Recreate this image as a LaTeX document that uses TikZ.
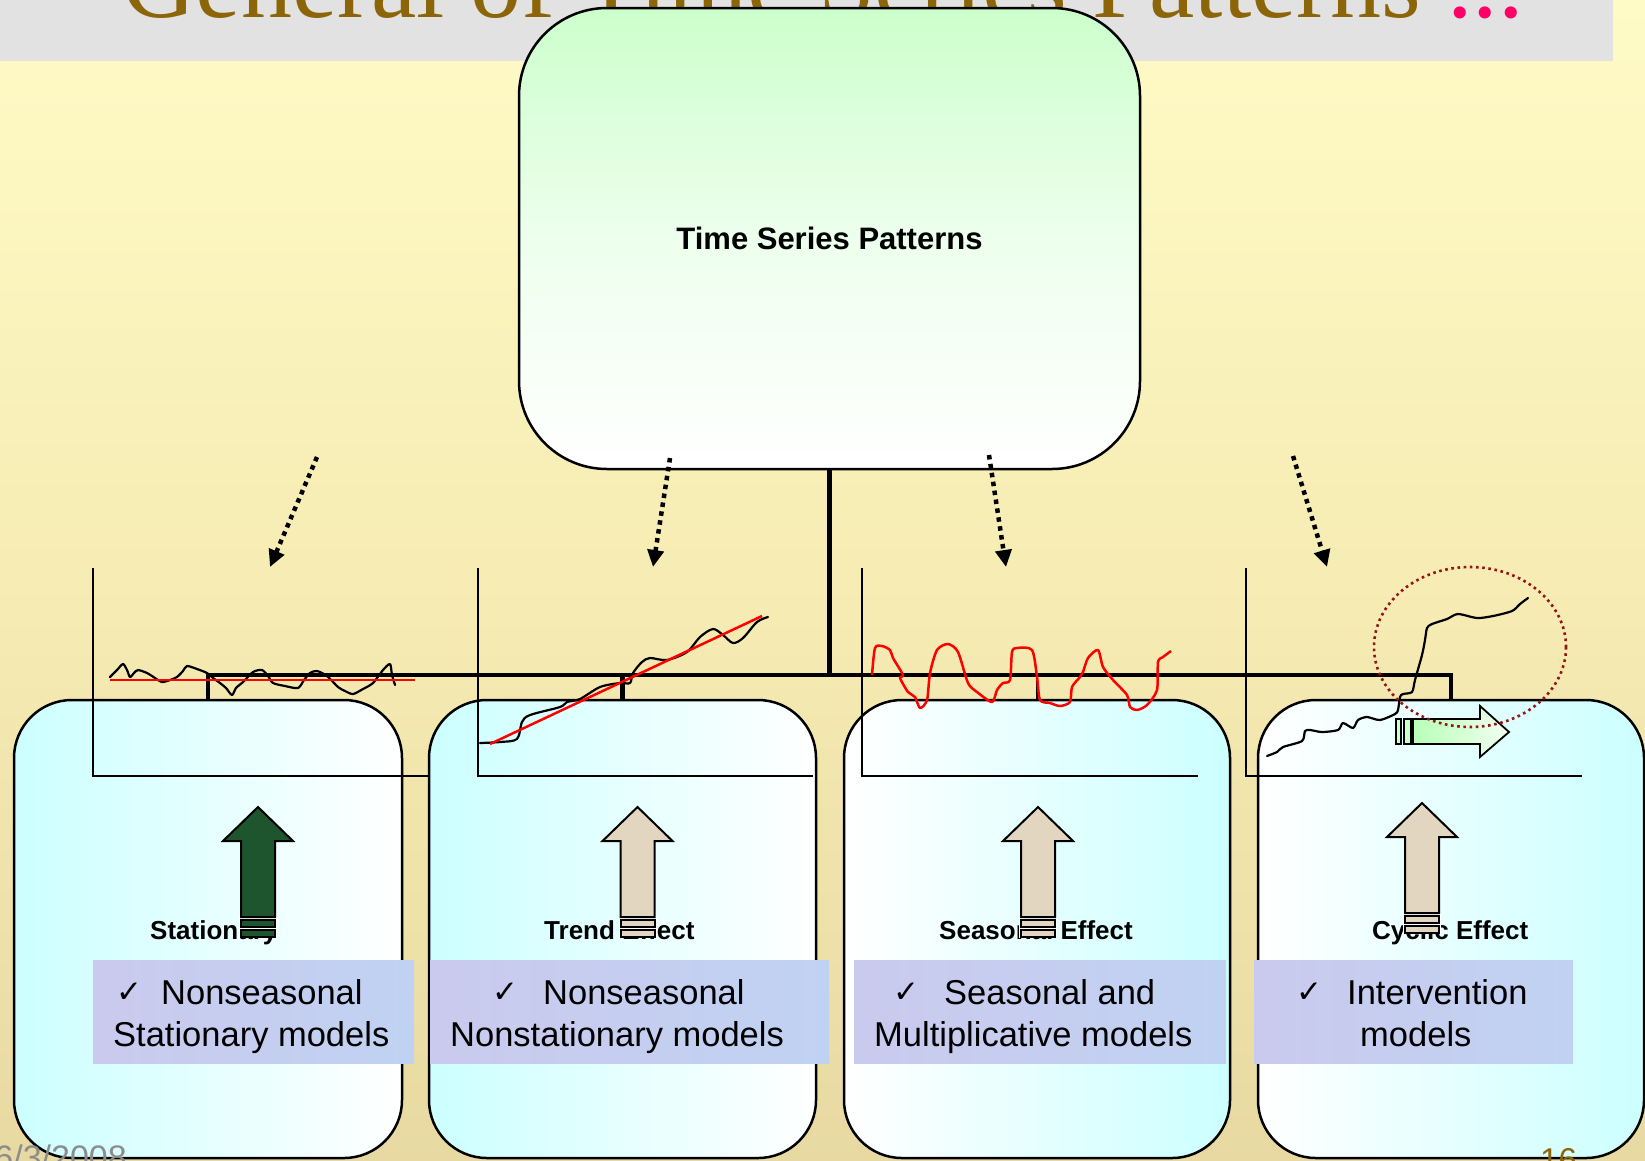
\documentclass[tikz,border=0pt]{standalone}
\usepackage{fontspec}
\setmainfont{Liberation Sans}
\newfontfamily\serifface{Liberation Serif}
\newfontfamily\symface{DejaVu Sans}
\usetikzlibrary{arrows.meta,shapes.geometric}

\definecolor{bgtop}{RGB}{255,251,198}
\definecolor{bgmid}{RGB}{246,236,180}
\definecolor{bgbot}{RGB}{232,217,162}
\definecolor{bandgray}{RGB}{226,226,226}
\definecolor{titlebrown}{RGB}{139,101,8}
\definecolor{dotpink}{RGB}{255,0,102}
\definecolor{tspgreen}{RGB}{204,255,204}
\definecolor{boxcyan}{RGB}{204,255,255}
\definecolor{panelblue}{RGB}{202,202,238}
\definecolor{panelblue2}{RGB}{192,210,242}
\definecolor{darkgreen}{RGB}{30,84,46}
\definecolor{beige}{RGB}{226,214,192}
\definecolor{ringred}{RGB}{150,20,20}
\definecolor{footgray}{RGB}{140,140,140}

\newcommand\blockup[3]{%
  \fill[white] (#1-19,#2+110) rectangle (#1+19,#2+131);
  \draw[blockline, fill=#3] (#1,#2) -- (#1+35,#2+34) -- (#1+17,#2+34) -- (#1+17,#2+110)
     -- (#1-17,#2+110) -- (#1-17,#2+34) -- (#1-35,#2+34) -- cycle;
  \draw[blockline, fill=#3] (#1-17,#2+113) rectangle (#1+17,#2+120);
  \draw[blockline, fill=#3] (#1-17,#2+123) rectangle (#1+17,#2+130);
}

\begin{document}
\begin{tikzpicture}[x=1pt,y=-1pt,
  patternbox/.style={draw=black, line width=2.5pt, rectangle, rounded corners=58pt,
     minimum width=386pt, minimum height=458pt, inner sep=0pt},
  tree/.style={line width=4.5pt, line cap=rect},
  axis/.style={line width=2pt},
  series/.style={line width=2.2pt, line join=round, line cap=round},
  trendred/.style={red, line width=2.5pt},
  dotarrow/.style={line width=4.5pt, dash pattern=on 4.5pt off 4.5pt,
     -{Triangle[length=17pt,width=16pt]}},
  blockline/.style={line width=2pt, line join=miter},
  label/.style={font=\bfseries\fontsize{26}{26}\selectfont, anchor=base west, inner sep=0pt},
  item/.style={font=\fontsize{34.5}{34.5}\selectfont, anchor=base west, inner sep=0pt},
  tick/.style={font=\symface\fontsize{31}{31}\selectfont, anchor=base west, inner sep=0pt},
  panel/.style={rectangle, inner sep=0pt, minimum height=103pt, left color=panelblue, right color=panelblue2}
]
\useasboundingbox (0,0) rectangle (1645,1160);
\begin{scope}
\clip (0,0) rectangle (1645,1160);

% backdrop and header band
\fill[top color=bgtop, bottom color=bgbot, middle color=bgmid] (0,0) rectangle (1645,1160);
\fill[bandgray] (0,0) rectangle (1613,61);
\node[anchor=base west, inner sep=0pt, text=titlebrown,
      font=\serifface\fontsize{102}{102}\selectfont] (title) at (122,17)
      {General of Time Series Patterns \textcolor{dotpink}{...}};

% root box
\node[draw=black, line width=2.5pt, rectangle, rounded corners=88pt,
      minimum width=621pt, minimum height=461pt, inner sep=0pt,
      top color=tspgreen, bottom color=white, middle color=tspgreen!35!white,
      font=\bfseries\fontsize{31}{31}\selectfont] (tsp) at (829.5,238.5) {Time Series Patterns};

% pattern boxes
\node[patternbox, minimum width=388pt, left color=boxcyan, right color=white] (b1) at (208,929) {};
\node[patternbox, minimum width=387pt, left color=boxcyan, right color=white] (b2) at (622.5,929) {};
\node[patternbox, left color=white, right color=boxcyan] (b3) at (1037,929) {};
\node[patternbox, left color=white, right color=boxcyan] (b4) at (1451,929) {};

% tree connectors
\coordinate (hub) at (829.5,675);
\draw[tree] (tsp.south) -- (hub);
\draw[tree] (b1.north) |- (hub) -| (b4.north);
\draw[tree] (b2.north) -- (b2.north |- hub);
\draw[line width=2.5pt] (b3.north) -- (b3.north |- hub);

% chart axes
\draw[axis] (93,568) -- (93,776) -- (428,776);
\draw[axis] (478,568) -- (478,776) -- (813,776);
\draw[axis] (862,568) -- (862,776) -- (1198,776);
\draw[axis] (1246,568) -- (1246,776) -- (1582,776);

% stationary series
\draw[series] plot[smooth, tension=0.45] coordinates {
 (110,677) (117,670) (123,664) (127,670) (130,677) (134,673) (138,670) (147,673)
 (155,678) (162,682) (170,680) (177,677) (183,671) (187,666) (197,669) (207,673)
 (213,678) (220,683) (226,688) (232,695) (236,688) (243,682) (253,672) (262,670)
 (268,676) (273,683) (285,686) (298,688) (304,680) (310,673) (317,671) (327,676)
 (338,687) (345,691) (353,694) (363,689) (373,683) (383,670) (390,664) (392,675) (395,685)};
\draw[trendred] (110,680) -- (415,680);

% trend series
\draw[series] plot[smooth, tension=0.5] coordinates {
 (480,743) (500,742) (517,739) (522,722) (530,715) (560,707) (567,702) (580,699)
 (600,687) (620,683) (630,683) (633,673) (642,662) (650,658) (667,660) (687,652)
 (700,637) (713,629) (723,635) (733,643) (743,638) (757,622) (768,617)};
\draw[trendred] (490,744) -- (762,616);

% seasonal series
\draw[red, line width=2.5pt, line join=round] plot[smooth, tension=0.45] coordinates {
 (872,675) (875,648) (882,646) (890,650) (893,658) (903,675) (900,678) (908,692)
 (915,697) (920,708) (927,700) (930,673) (937,650) (948,644) (958,652) (968,683)
 (977,692) (992,702) (997,690) (1003,683) (1010,680) (1012,652) (1017,648) (1032,650)
 (1037,677) (1040,700) (1050,703) (1060,706) (1070,702) (1072,687) (1080,677) (1083,672)
 (1088,658) (1098,650) (1103,667) (1113,680) (1127,695) (1130,707) (1137,710) (1147,705)
 (1157,690) (1158,662) (1163,657) (1171,651)};

% cyclic series
\draw[series] plot[smooth, tension=0.45] coordinates {
 (1267,756) (1277,752) (1283,747) (1302,741) (1305,731) (1310,730) (1322,732) (1338,730)
 (1343,723) (1353,728) (1358,720) (1367,717) (1380,720) (1395,714) (1398,710) (1400,697)
 (1403,694) (1412,692) (1415,680) (1422,655) (1425,640) (1427,628) (1432,624) (1447,619)
 (1458,614) (1477,618) (1493,616) (1512,611) (1520,604) (1528,598)};

% shift arrow and highlight ring
\draw[blockline, line width=1.8pt, fill=tspgreen] (1396,719) rectangle (1401,744);
\draw[blockline, line width=1.8pt, fill=tspgreen] (1404,719) rectangle (1411,744);
\draw[blockline, line width=1.8pt, left color=tspgreen!90!green, right color=tspgreen!25!white]
  (1413,719) -- (1480,719) -- (1480,706) -- (1509,732) -- (1480,757) -- (1480,744) -- (1413,744) -- cycle;
\draw[ringred, line width=2.6pt, dash pattern=on 2.6pt off 3.6pt] (1470,647) ellipse [x radius=96, y radius=80];

% dotted pointers
\coordinate (d1s) at (317,457); \coordinate (d1e) at (270,567);
\coordinate (d2s) at (670,458); \coordinate (d2e) at (653,567);
\coordinate (d3s) at (989,455); \coordinate (d3e) at (1006,567);
\coordinate (d4s) at (1293,456); \coordinate (d4e) at (1327,567);
\draw[dotarrow] (d1s) -- (d1e);
\draw[dotarrow] (d2s) -- (d2e);
\draw[dotarrow] (d3s) -- (d3e);
\draw[dotarrow] (d4s) -- (d4e);

% effect labels
\node[label] (l1) at (150,939) {Stationary};
\node[label] (l2) at (544,939) {Trend Effect};
\node[label] (l3) at (939,939) {Seasonal Effect};
\node[label] (l4) at (1372,939) {Cyclic Effect};

% upward block arrows
\blockup{258}{807}{darkgreen}
\blockup{637.5}{807}{beige}
\blockup{1038}{807}{beige}
\blockup{1422}{803}{beige}

% model panels
\node[panel, minimum width=321pt] (p1) at (253.5,1011.5) {};
\node[panel, minimum width=399pt] (p2) at (629.5,1011.5) {};
\node[panel, minimum width=372pt] (p3) at (1040,1011.5) {};
\node[panel, minimum width=319pt] (p4) at (1413.5,1011.5) {};

\node[tick] (k1) at (116,1002) {✓};
\node[item] (t1a) at (161,1004) {Nonseasonal};
\node[item] (t1b) at (113,1046) {Stationary models};
\node[tick] (k2) at (492,1002) {✓};
\node[item] (t2a) at (543,1004) {Nonseasonal};
\node[item] (t2b) at (450,1046) {Nonstationary models};
\node[tick] (k3) at (893,1002) {✓};
\node[item] (t3a) at (944,1004) {Seasonal and};
\node[item] (t3b) at (874,1046) {Multiplicative models};
\node[tick] (k4) at (1296,1002) {✓};
\node[item] (t4a) at (1347,1004) {Intervention};
\node[item] (t4b) at (1360,1046) {models};

% footer
\node[anchor=base east, inner sep=0pt, text=footgray, font=\fontsize{34}{34}\selectfont] (date) at (127,1169) {6/3/2008};
\node[anchor=base west, inner sep=0pt, text=titlebrown, font=\fontsize{33}{33}\selectfont] (page) at (1540,1171) {16};
\end{scope}
\end{tikzpicture}
\end{document}
